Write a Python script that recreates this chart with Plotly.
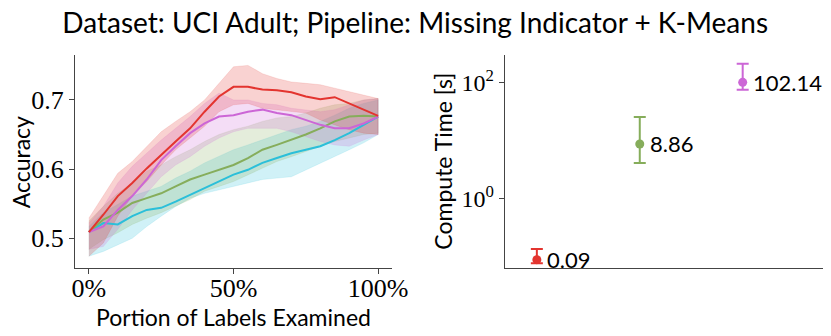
import math

import plotly.graph_objects as go

# Left panel: accuracy vs portion of labels examined (percent)
PORTION = [0, 5, 10, 15, 20, 25, 30, 35, 40, 45, 50, 55, 60, 65, 70, 75, 80, 85, 90, 95, 100]

RED_MEAN = [0.509, 0.534, 0.561, 0.580, 0.601, 0.621, 0.640, 0.659, 0.683, 0.705, 0.719,
            0.719, 0.715, 0.714, 0.711, 0.705, 0.701, 0.704, 0.695, 0.686, 0.677]
RED_HI = [0.529, 0.561, 0.594, 0.611, 0.633, 0.654, 0.669, 0.683, 0.700, 0.724, 0.748,
          0.750, 0.738, 0.731, 0.726, 0.724, 0.722, 0.717, 0.712, 0.707, 0.702]
RED_LO = [0.474, 0.493, 0.532, 0.561, 0.582, 0.606, 0.628, 0.645, 0.662, 0.683, 0.693,
          0.695, 0.688, 0.686, 0.683, 0.681, 0.671, 0.664, 0.657, 0.652, 0.650]

PURPLE_MEAN = [0.509, 0.517, 0.541, 0.561, 0.585, 0.613, 0.633, 0.652, 0.666, 0.676, 0.678,
               0.683, 0.686, 0.681, 0.678, 0.671, 0.664, 0.659, 0.659, 0.666, 0.676]
PURPLE_HI = [0.522, 0.546, 0.580, 0.604, 0.623, 0.642, 0.659, 0.676, 0.695, 0.710, 0.700,
             0.700, 0.695, 0.693, 0.688, 0.686, 0.683, 0.686, 0.693, 0.700, 0.702]
PURPLE_LO = [0.484, 0.488, 0.513, 0.541, 0.565, 0.589, 0.606, 0.618, 0.633, 0.645, 0.654,
             0.659, 0.659, 0.659, 0.654, 0.647, 0.640, 0.635, 0.633, 0.642, 0.650]

GREEN_MEAN = [0.509, 0.527, 0.537, 0.551, 0.558, 0.565, 0.575, 0.585, 0.592, 0.599, 0.606,
              0.616, 0.628, 0.635, 0.642, 0.650, 0.659, 0.669, 0.676, 0.677, 0.676]
GREEN_HI = [0.525, 0.546, 0.565, 0.580, 0.597, 0.606, 0.618, 0.628, 0.640, 0.650, 0.657,
            0.662, 0.669, 0.674, 0.676, 0.681, 0.688, 0.693, 0.695, 0.700, 0.702]
GREEN_LO = [0.484, 0.498, 0.508, 0.520, 0.529, 0.537, 0.546, 0.556, 0.568, 0.575, 0.582,
            0.592, 0.601, 0.611, 0.618, 0.625, 0.633, 0.640, 0.645, 0.650, 0.652]

CYAN_MEAN = [0.509, 0.522, 0.520, 0.532, 0.541, 0.544, 0.553, 0.563, 0.573, 0.582, 0.592,
             0.599, 0.609, 0.616, 0.623, 0.628, 0.633, 0.642, 0.652, 0.664, 0.676]
CYAN_HI = [0.517, 0.537, 0.549, 0.561, 0.568, 0.575, 0.587, 0.597, 0.609, 0.618, 0.628,
           0.635, 0.642, 0.650, 0.657, 0.662, 0.669, 0.678, 0.688, 0.695, 0.700]
CYAN_LO = [0.474, 0.481, 0.491, 0.500, 0.517, 0.532, 0.546, 0.558, 0.565, 0.570, 0.575,
           0.580, 0.585, 0.587, 0.589, 0.599, 0.609, 0.618, 0.628, 0.638, 0.650]

# Right panel: compute time per method
TIME_POS = [0, 1, 2]
TIME_MEAN = [0.09, 8.86, 102.14]
TIME_HI = [0.137, 25.9, 213.0]
TIME_LO = [0.078, 4.18, 76.0]
TIME_LABELS = ["0.09", "8.86", "102.14"]

RED = "#e3342f"
PURPLE = "#cc66d6"
GREEN = "#86ad5b"
CYAN = "#2bbfd9"
TIME_COLORS = [RED, GREEN, PURPLE]

SANS = "Lato"
SERIF = "Liberation Serif"


def rgba(hex_color, alpha):
    h = hex_color.lstrip("#")
    r, g, b = int(h[0:2], 16), int(h[2:4], 16), int(h[4:6], 16)
    return f"rgba({r},{g},{b},{alpha})"


fig = go.Figure()

# bands first, then lines on top
series = [
    (CYAN, CYAN_MEAN, CYAN_HI, CYAN_LO),
    (GREEN, GREEN_MEAN, GREEN_HI, GREEN_LO),
    (PURPLE, PURPLE_MEAN, PURPLE_HI, PURPLE_LO),
    (RED, RED_MEAN, RED_HI, RED_LO),
]
for color, mean, hi, lo in series:
    fig.add_trace(go.Scatter(
        x=PORTION + PORTION[::-1], y=hi + lo[::-1],
        fill="toself", fillcolor=rgba(color, 0.22),
        line=dict(color=rgba(color, 0.25), width=0.5),
        hoverinfo="skip", showlegend=False, xaxis="x", yaxis="y",
    ))
for color, mean, hi, lo in series:
    fig.add_trace(go.Scatter(
        x=PORTION, y=mean, mode="lines",
        line=dict(color=color, width=2),
        showlegend=False, xaxis="x", yaxis="y",
    ))

# compute time points with error bars
for i in range(len(TIME_POS)):
    fig.add_trace(go.Scatter(
        x=[TIME_POS[i]], y=[TIME_MEAN[i]], mode="markers",
        marker=dict(color=TIME_COLORS[i], size=9),
        error_y=dict(
            type="data", symmetric=False,
            array=[TIME_HI[i] - TIME_MEAN[i]],
            arrayminus=[TIME_MEAN[i] - TIME_LO[i]],
            color=TIME_COLORS[i], thickness=2, width=6,
        ),
        showlegend=False, xaxis="x2", yaxis="y2",
    ))
    # annotations on a log axis take log10 positions
    fig.add_annotation(
        x=TIME_POS[i], y=math.log10(TIME_MEAN[i]),
        xref="x2", yref="y2", text=TIME_LABELS[i],
        showarrow=False, xanchor="left", xshift=8,
        font=dict(family=SANS, size=22, color="black"),
    )

# y-axis titles placed by hand (standoff misbehaves without automargin)
fig.add_annotation(x=0.015, y=0.542, xref="paper", yref="paper",
                   text="Accuracy", textangle=-90, showarrow=False,
                   xanchor="center", yanchor="middle",
                   font=dict(family=SANS, size=23, color="black"))
fig.add_annotation(x=0.524, y=0.544, xref="paper", yref="paper",
                   text="Compute Time [s]", textangle=-90, showarrow=False,
                   xanchor="center", yanchor="middle",
                   font=dict(family=SANS, size=23, color="black"))

axis_line = dict(showline=True, linecolor="#444444", linewidth=1.3,
                 showgrid=False, zeroline=False, ticks="outside",
                 ticklen=5, tickcolor="#444444", tickwidth=1.2,
                 automargin=False)

# the page body adds an 8px offset, so domains are shifted up/left by that much
fig.update_layout(
    width=831, height=336,
    margin=dict(l=0, r=0, t=0, b=0),
    plot_bgcolor="white", paper_bgcolor="white",
    title=dict(text="Dataset: UCI Adult; Pipeline: Missing Indicator + K-Means",
               x=0.49, xanchor="center", y=0.955, yanchor="middle",
               font=dict(family=SANS, size=28, color="black")),
    xaxis=dict(domain=[0.0806, 0.4621], range=[-4.8, 104.8],
               tickvals=[0, 50, 100], ticktext=["0%", "50%", "100%"],
               tickfont=dict(family=SERIF, size=26, color="black"),
               ticklabelstandoff=-8,
               title=dict(text="Portion of Labels Examined", standoff=3,
                          font=dict(family=SANS, size=23, color="black")),
               anchor="y", **axis_line),
    yaxis=dict(domain=[0.2262, 0.8601], range=[0.457, 0.765],
               tickvals=[0.5, 0.6, 0.7], ticktext=["0.5", "0.6", "0.7"],
               tickfont=dict(family=SERIF, size=26, color="black"),
               anchor="x", **axis_line),
    xaxis2=dict(domain=[0.598, 0.9807], range=[-0.31, 2.78],
                showline=True, linecolor="#444444", linewidth=1.3,
                showgrid=False, zeroline=False, showticklabels=False,
                ticks="", anchor="y2", automargin=False),
    yaxis2=dict(domain=[0.2262, 0.8601], type="log", range=[-1.19, 2.48],
                tickvals=[1, 100], ticktext=["10<sup>0</sup>", "10<sup>2</sup>"],
                tickfont=dict(family=SERIF, size=24, color="black"),
                anchor="x2", **axis_line),
)

fig.write_html("out.html")
